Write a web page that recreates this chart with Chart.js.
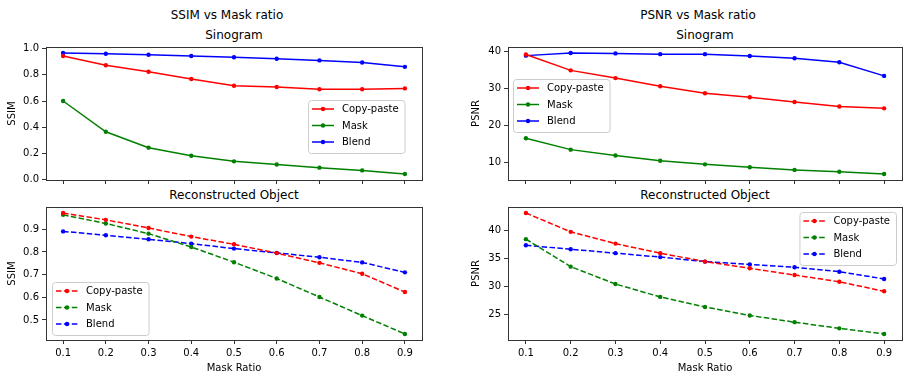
<!DOCTYPE html>
<html>
<head>
<meta charset="utf-8">
<script src="https://cdn.jsdelivr.net/npm/chart.js@4.4.1/dist/chart.umd.min.js"></script>
<style>
html, body { margin: 0; padding: 0; background: #fff; overflow: hidden; }
body { width: 906px; height: 373px; position: relative; font-family: "DejaVu Sans", sans-serif; }
.t { position: absolute; font-size: 12px; color: #000; transform: translate(-50%, -50%); white-space: nowrap; }
.box { position: absolute; }
</style>
</head>
<body>
<div class="t" style="left:227px;top:15px">SSIM vs Mask ratio</div>
<div class="t" style="left:698px;top:15px">PSNR vs Mask ratio</div>
<div class="t" style="left:234px;top:35px">Sinogram</div>
<div class="t" style="left:705px;top:35px">Sinogram</div>
<div class="t" style="left:234px;top:195px">Reconstructed Object</div>
<div class="t" style="left:705px;top:195px">Reconstructed Object</div>

<div class="box" style="left:0px;top:37px;width:426px;height:153px"><canvas id="ssimSino"></canvas></div>
<div class="box" style="left:0px;top:197px;width:426px;height:179px"><canvas id="ssimRec"></canvas></div>
<div class="box" style="left:462px;top:37px;width:444px;height:153px"><canvas id="psnrSino"></canvas></div>
<div class="box" style="left:462px;top:197px;width:444px;height:179px"><canvas id="psnrRec"></canvas></div>

<script>
const maskRatio = [0.1, 0.2, 0.3, 0.4, 0.5, 0.6, 0.7, 0.8, 0.9]
const seriesNames = ["Copy-paste", "Mask", "Blend"]
const seriesColors = ["#ff0000", "#008000", "#0000ff"]

// SSIM, sinogram
const ssimSinoCopy  = [0.943, 0.872, 0.823, 0.768, 0.716, 0.707, 0.690, 0.690, 0.696]
const ssimSinoMask  = [0.600, 0.366, 0.245, 0.183, 0.141, 0.117, 0.093, 0.072, 0.045]
const ssimSinoBlend = [0.965, 0.960, 0.952, 0.943, 0.933, 0.922, 0.909, 0.893, 0.860]

// SSIM, reconstructed object
const ssimRecCopy  = [0.972, 0.942, 0.906, 0.868, 0.834, 0.795, 0.752, 0.704, 0.623]
const ssimRecMask  = [0.964, 0.926, 0.881, 0.822, 0.755, 0.683, 0.601, 0.519, 0.438]
const ssimRecBlend = [0.891, 0.874, 0.856, 0.837, 0.815, 0.796, 0.777, 0.754, 0.710]

// PSNR, sinogram
const psnrSinoCopy  = [39.2, 34.9, 32.8, 30.6, 28.7, 27.6, 26.3, 25.1, 24.6]
const psnrSinoMask  = [16.5, 13.4, 11.8, 10.4, 9.4, 8.6, 7.9, 7.4, 6.8]
const psnrSinoBlend = [38.9, 39.6, 39.5, 39.3, 39.3, 38.8, 38.2, 37.1, 33.4]

// PSNR, reconstructed object
const psnrRecCopy  = [43.15, 39.8, 37.7, 36.0, 34.5, 33.3, 32.1, 30.9, 29.2]
const psnrRecMask  = [38.5, 33.6, 30.5, 28.2, 26.4, 24.9, 23.7, 22.6, 21.6]
const psnrRecBlend = [37.4, 36.7, 36.0, 35.3, 34.5, 34.0, 33.5, 32.7, 31.4]

// tick labels
const ssimSinoTicks = [0.0, 0.2, 0.4, 0.6, 0.8, 1.0]
const ssimRecTicks  = [0.5, 0.6, 0.7, 0.8, 0.9]
const psnrSinoTicks = [10, 20, 30, 40]
const psnrRecTicks  = [25, 30, 35, 40]

const FONT = '"DejaVu Sans", sans-serif'
const AXIS_COLOR = "#333"

// matplotlib style frame around the axes
const frame = {
    id: "frame",
    afterDraw(chart){
        const {ctx, chartArea: a} = chart
        ctx.save()
        ctx.strokeStyle = AXIS_COLOR
        ctx.lineWidth = 1
        ctx.strokeRect(Math.round(a.left) + 0.5, Math.round(a.top) + 0.5,
            Math.round(a.right - a.left), Math.round(a.bottom - a.top))
        ctx.restore()
    }
}

// legend box drawn inside the axes
const boxLegend = {
    id: "boxLegend",
    afterDatasetsDraw(chart, args, opts){
        const {ctx, chartArea: a} = chart
        const sets = chart.data.datasets
        ctx.save()
        ctx.font = "10px " + FONT
        const tw = Math.max(...sets.map((d) => ctx.measureText(d.label).width))
        const w = 4 + 22 + 8 + tw + 6
        const rowH = 16.5
        const h = 20 + (sets.length - 1) * rowH
        const x = opts.right != null ? a.right - opts.right - w : a.left + opts.left
        const y = a.top + opts.top

        ctx.beginPath()
        ctx.roundRect(x + 0.5, y + 0.5, w, h, 3)
        ctx.fillStyle = "rgba(255,255,255,0.8)"
        ctx.fill()
        ctx.strokeStyle = "#cccccc"
        ctx.lineWidth = 1
        ctx.stroke()

        sets.forEach((d, i) => {
            const cy = y + 9 + i * rowH
            ctx.beginPath()
            ctx.setLineDash(d.borderDash || [])
            ctx.strokeStyle = d.borderColor
            ctx.lineWidth = d.borderWidth
            ctx.moveTo(x + 4, cy)
            ctx.lineTo(x + 26, cy)
            ctx.stroke()
            ctx.setLineDash([])
            ctx.beginPath()
            ctx.fillStyle = d.borderColor
            ctx.arc(x + 15, cy, 2.2, 0, Math.PI * 2)
            ctx.fill()
            ctx.fillStyle = "#000"
            ctx.textBaseline = "middle"
            ctx.textAlign = "left"
            ctx.fillText(d.label, x + 34, cy + 0.5)
        })
        ctx.restore()
    }
}

function limits(values){
    const lo = Math.min(...values.flat())
    const hi = Math.max(...values.flat())
    const m = (hi - lo) * 0.05
    return [lo - m, hi + m]
}

function makeChart(id, series, ticks, decimals, yLabel, yTitlePad, dashed, bottomRow, legendPos){
    const [yMin, yMax] = limits(series)
    const datasets = series.map((vals, i) => ({
        label: seriesNames[i],
        data: vals.map((v, j) => ({x: maskRatio[j], y: v})),
        borderColor: seriesColors[i],
        backgroundColor: seriesColors[i],
        borderWidth: 1.5,
        borderDash: dashed ? [5.5, 2.4] : [],
        pointRadius: 2.2,
        pointBorderWidth: 0,
        pointHoverRadius: 2.2,
        tension: 0,
        fill: false,
    }))

    new Chart(document.getElementById(id).getContext("2d"), {
        type: "line",
        data: {datasets: datasets},
        options: {
            responsive: true,
            maintainAspectRatio: false,
            animation: false,
            events: [],
            layout: {padding: {left: 0, top: 10, right: 4, bottom: 0}},
            plugins: {
                legend: {display: false},
                tooltip: {enabled: false},
                boxLegend: legendPos,
            },
            scales: {
                x: {
                    type: "linear",
                    min: 0.06,
                    max: 0.94,
                    border: {display: false},
                    grid: {display: true, drawOnChartArea: false, drawTicks: true, tickLength: 4, tickColor: AXIS_COLOR},
                    ticks: {
                        display: bottomRow,
                        autoSkip: false,
                        maxRotation: 0,
                        padding: 3,
                        color: "#000",
                        font: {family: FONT, size: 10},
                        callback: (v) => v.toFixed(1),
                    },
                    afterBuildTicks: (s) => { s.ticks = maskRatio.map((v) => ({value: v})) },
                    title: {
                        display: bottomRow,
                        text: "Mask Ratio",
                        color: "#000",
                        font: {family: FONT, size: 10},
                        padding: {top: 0, bottom: 2},
                    },
                    afterFit: (s) => { s.height = bottomRow ? 36 : 10 },
                },
                y: {
                    type: "linear",
                    min: yMin,
                    max: yMax,
                    border: {display: false},
                    grid: {display: true, drawOnChartArea: false, drawTicks: true, tickLength: 4, tickColor: AXIS_COLOR},
                    ticks: {
                        padding: 3,
                        color: "#000",
                        font: {family: FONT, size: 10},
                        callback: (v) => v.toFixed(decimals),
                    },
                    afterBuildTicks: (s) => { s.ticks = ticks.map((v) => ({value: v})) },
                    title: {
                        display: true,
                        text: yLabel,
                        color: "#000",
                        font: {family: FONT, size: 10},
                        padding: {top: yTitlePad, bottom: 0},
                    },
                    afterFit: (s) => { s.width = 46 },
                },
            },
        },
        plugins: [frame, boxLegend],
    })
}

makeChart("ssimSino", [ssimSinoCopy, ssimSinoMask, ssimSinoBlend], ssimSinoTicks, 1, "SSIM", 6.5, false, false, {left: 262, top: 53})
makeChart("ssimRec", [ssimRecCopy, ssimRecMask, ssimRecBlend], ssimRecTicks, 1, "SSIM", 6.5, true, true, {left: 6, top: 75})
makeChart("psnrSino", [psnrSinoCopy, psnrSinoMask, psnrSinoBlend], psnrSinoTicks, 0, "PSNR", 8, false, false, {left: 5, top: 32})
makeChart("psnrRec", [psnrRecCopy, psnrRecMask, psnrRecBlend], psnrRecTicks, 0, "PSNR", 8, true, true, {right: 6, top: 5})
</script>
</body>
</html>
